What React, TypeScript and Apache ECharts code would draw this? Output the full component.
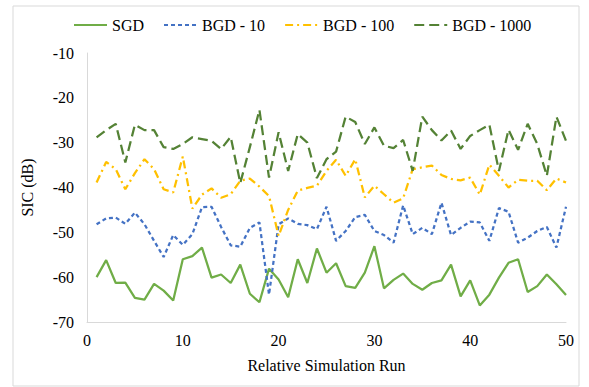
import React, { useEffect, useRef } from "react";
import * as echarts from "echarts";

const runs: number[] = Array.from({ length: 50 }, (_, i) => i + 1);

const sgd: number[] = [-60, -56.2, -61.3, -61.2, -64.6, -65, -61.5, -63, -65.2, -56, -55.3, -53.4, -60.1, -59.4, -61.3, -57.2, -63.7, -65.6, -58.1, -60.5, -64.5, -56, -61.3, -53.6, -59, -56.9, -62, -62.4, -59, -53.1, -62.5, -60.6, -59.2, -61.5, -62.8, -61.3, -60.7, -57.2, -64.3, -60.7, -66.3, -63.9, -60.1, -56.8, -56, -63.3, -62, -59.4, -61.6, -64];

const bgd10: number[] = [-48.2, -46.9, -46.7, -48.1, -45.6, -48.2, -51.9, -55.5, -50.6, -52.8, -50.4, -44.4, -44.3, -48.8, -52.9, -53.2, -49, -47.8, -63.9, -48.2, -46.9, -48.1, -48.4, -49.3, -44.3, -51.9, -49.7, -46.6, -46.1, -49.7, -50.6, -52.3, -44, -50.4, -49, -50.4, -43.4, -50.6, -49, -47.6, -47.8, -51.9, -44.6, -45.4, -52.3, -51.2, -49.7, -48.8, -53.4, -44.3];

const bgd100: number[] = [-38.9, -34.3, -35.9, -40.4, -36.8, -33.7, -35.9, -40.4, -41.1, -33.1, -44.7, -41.6, -40.2, -42.3, -41.5, -38.5, -38, -39.8, -41.9, -50.8, -45, -40.7, -40.1, -39.6, -36.3, -33.8, -37.4, -33.7, -42.2, -39.6, -41.5, -43.4, -42.4, -35.9, -35.5, -35.1, -37.2, -38.1, -38.4, -37.8, -41.6, -34.9, -37.4, -40, -38.3, -38.5, -38.5, -40.6, -38, -38.9];

const bgd1000: number[] = [-28.8, -27.2, -25.8, -34.4, -26, -27.2, -27.2, -31, -31.4, -30.3, -28.8, -29.2, -29.6, -31.4, -28.7, -39, -31, -22.7, -37.8, -27.7, -36.3, -28.1, -30, -37.9, -33.7, -32, -24.2, -25.4, -30.3, -26.6, -30.7, -31.2, -29.4, -36.3, -24.2, -27.2, -29.5, -27.3, -31.4, -28.5, -27.2, -26, -36.3, -27.1, -31.6, -25.8, -30.3, -37.4, -24.2, -29.6];

const seriesNames: string[] = ["SGD", "BGD - 10", "BGD - 100", "BGD - 1000"];
const xTitle = "Relative Simulation Run";
const yTitle = "SIC (dB)";

const FONT = "'Liberation Serif', 'Times New Roman', serif";

export default function App() {
  const ref = useRef<HTMLDivElement>(null);
  useEffect(() => {
    if (!ref.current) return;
    const chart = echarts.init(ref.current, undefined, { renderer: "svg" });
    const pair = (arr: number[]) => arr.map((v, i) => [runs[i], v]);
    const styles = [
      { color: "#70AD47", type: "solid" as any },
      { color: "#4472C4", type: [4, 3] as any },
      { color: "#FFC000", type: [8, 4, 2, 4] as any },
      { color: "#548235", type: [10, 5] as any },
    ];
    const datas = [sgd, bgd10, bgd100, bgd1000];
    chart.setOption({
      animation: false,
      backgroundColor: "#ffffff",
      textStyle: { fontFamily: FONT },
      graphic: [
        {
          type: "rect",
          shape: { x: 13, y: 6, width: 566, height: 380 },
          style: { fill: "none", stroke: "#d9d9d9", lineWidth: 1 },
          silent: true,
        },
      ],
      legend: {
        left: 73,
        top: 17,
        padding: 0,
        itemWidth: 33,
        itemHeight: 14,
        itemGap: 19,
        itemStyle: { opacity: 0 },
        textStyle: { fontFamily: FONT, fontSize: 16, color: "#000" },
        data: seriesNames,
      },
      grid: { left: 87, right: 23, top: 53, bottom: 65 },
      xAxis: {
        type: "value",
        min: 0,
        max: 50,
        interval: 10,
        name: xTitle,
        nameLocation: "middle",
        nameGap: 35,
        nameTextStyle: { fontFamily: FONT, fontSize: 16, color: "#000" },
        axisLine: { show: true, lineStyle: { color: "#d9d9d9", width: 1 } },
        axisTick: { show: false },
        splitLine: { show: false },
        axisLabel: { fontFamily: FONT, fontSize: 16, color: "#000", margin: 10 },
      },
      yAxis: {
        type: "value",
        min: -70,
        max: -10,
        interval: 10,
        name: yTitle,
        nameLocation: "middle",
        nameGap: 52,
        nameTextStyle: { fontFamily: FONT, fontSize: 16, color: "#000" },
        axisLine: { show: true, lineStyle: { color: "#d9d9d9", width: 1 } },
        axisTick: { show: false },
        splitLine: { show: false },
        axisLabel: { fontFamily: FONT, fontSize: 16, color: "#000", margin: 13 },
      },
      series: datas.map((d, k) => ({
        name: seriesNames[k],
        type: "line",
        data: pair(d),
        symbol: "none",
        showSymbol: false,
        color: styles[k].color,
        lineStyle: { color: styles[k].color, width: 2.25, type: styles[k].type },
      })),
    });
    return () => chart.dispose();
  }, []);
  return (
    <div
      ref={ref}
      style={{ position: "fixed", left: 0, top: 0, width: 589, height: 387 }}
    />
  );
}
